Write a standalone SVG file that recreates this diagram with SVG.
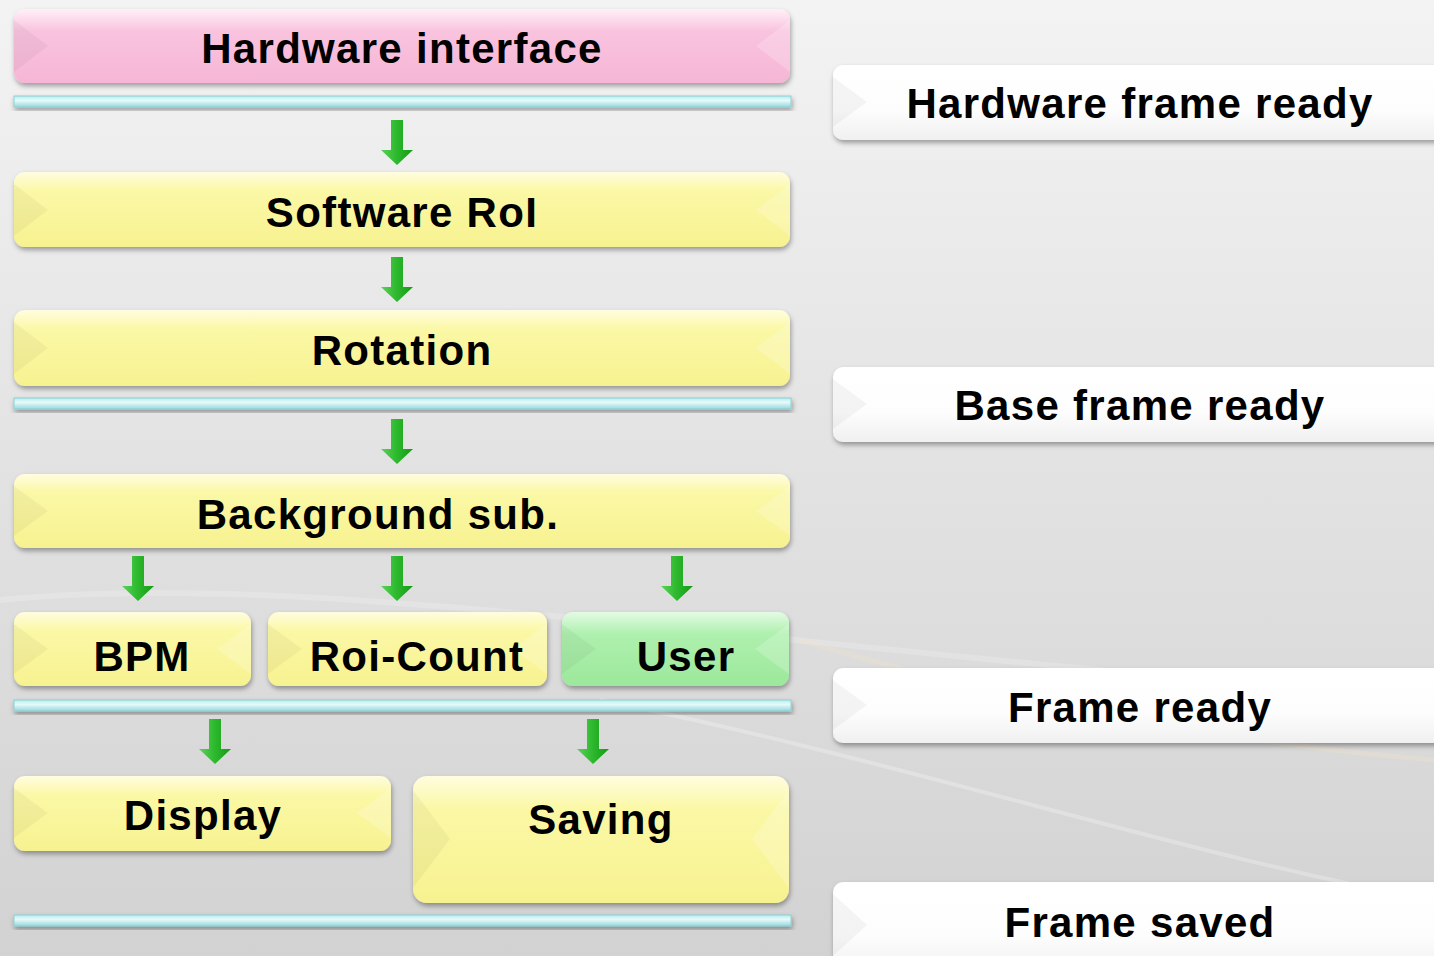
<svg xmlns="http://www.w3.org/2000/svg" xmlns:xlink="http://www.w3.org/1999/xlink" width="1434" height="956" viewBox="0 0 1434 956">
<defs>
<linearGradient id="bg" x1="0" y1="0" x2="0" y2="1">
<stop offset="0" stop-color="#f3f3f3"/>
<stop offset="0.5" stop-color="#e2e2e2"/>
<stop offset="1" stop-color="#d2d2d2"/>
</linearGradient>
<linearGradient id="gy" x1="0" y1="0" x2="0" y2="1">
<stop offset="0" stop-color="#fffde0"/>
<stop offset="0.25" stop-color="#fbf8a6"/>
<stop offset="1" stop-color="#f7f290"/>
</linearGradient>
<linearGradient id="gp" x1="0" y1="0" x2="0" y2="1">
<stop offset="0" stop-color="#fff0f8"/>
<stop offset="0.3" stop-color="#f9c3de"/>
<stop offset="1" stop-color="#f6b6d6"/>
</linearGradient>
<linearGradient id="gg" x1="0" y1="0" x2="0" y2="1">
<stop offset="0" stop-color="#e4fbe4"/>
<stop offset="0.3" stop-color="#aef0ae"/>
<stop offset="1" stop-color="#9ce89c"/>
</linearGradient>
<linearGradient id="gw" x1="0" y1="0" x2="0" y2="1">
<stop offset="0" stop-color="#ffffff"/>
<stop offset="0.6" stop-color="#fdfdfd"/>
<stop offset="1" stop-color="#f0f0f0"/>
</linearGradient>
<linearGradient id="gc" x1="0" y1="0" x2="0" y2="1">
<stop offset="0" stop-color="#b8ecec"/>
<stop offset="0.4" stop-color="#e6fafa"/>
<stop offset="1" stop-color="#98d8dc"/>
</linearGradient>
<linearGradient id="ga" x1="0" y1="0" x2="1" y2="0">
<stop offset="0" stop-color="#5ad25a"/>
<stop offset="0.5" stop-color="#2cb82c"/>
<stop offset="1" stop-color="#169a16"/>
</linearGradient>
<filter id="sh" x="-5%" y="-20%" width="110%" height="150%">
<feDropShadow dx="1" dy="3" stdDeviation="2.5" flood-color="#000" flood-opacity="0.35"/>
</filter>
<path id="arr" d="M-6,0 H6 V30 H16 L0,45 L-16,30 H-6 Z" fill="url(#ga)"/>
</defs>
<style>
.t{font-family:"Liberation Sans",Arial,sans-serif;font-weight:bold;font-size:42px;letter-spacing:1.3px;fill:#000;text-anchor:middle}
.box{filter:url(#sh)}
.bl{fill:#000;opacity:0.04}
.br{fill:#fff;opacity:0.2}
.bar{fill:url(#gc);stroke:#8ccfd3;stroke-width:1;filter:url(#sh)}
</style>
<rect width="1434" height="956" fill="url(#bg)"/>
<path d="M0,600 C300,570 700,640 1434,700" stroke="#fff" stroke-opacity="0.18" stroke-width="6" fill="none"/>
<path d="M600,700 C900,760 1200,860 1434,900" stroke="#fff" stroke-opacity="0.25" stroke-width="4" fill="none"/>
<path d="M800,640 C1000,700 1200,740 1434,760" stroke="#f5e6c8" stroke-opacity="0.3" stroke-width="5" fill="none"/>

<g id="bars">
<rect class="bar" x="14" y="96" width="777" height="11"/>
<rect class="bar" x="14" y="398" width="777" height="11"/>
<rect class="bar" x="14" y="700" width="777" height="11"/>
<rect class="bar" x="14" y="915" width="777" height="11"/>
</g>

<g id="hw-interface">
<rect class="box" x="14" y="9" width="776" height="74" rx="11" fill="url(#gp)"/>
<path class="bl" d="M14,20 L48,46 L14,72 Z"/>
<path class="br" d="M790,20 L756,46 L790,72 Z"/>
<text class="t" x="402" y="63">Hardware interface</text>
</g>

<g id="software-roi">
<rect class="box" x="14" y="172" width="776" height="75" rx="11" fill="url(#gy)"/>
<path class="bl" d="M14,184 L48,210 L14,236 Z"/>
<path class="br" d="M790,184 L756,210 L790,236 Z"/>
<text class="t" x="402" y="227">Software RoI</text>
</g>

<g id="rotation">
<rect class="box" x="14" y="310" width="776" height="76" rx="11" fill="url(#gy)"/>
<path class="bl" d="M14,322 L48,348 L14,374 Z"/>
<path class="br" d="M790,322 L756,348 L790,374 Z"/>
<text class="t" x="402" y="365">Rotation</text>
</g>

<g id="background-sub">
<rect class="box" x="14" y="474" width="776" height="74" rx="11" fill="url(#gy)"/>
<path class="bl" d="M14,486 L48,511 L14,536 Z"/>
<path class="br" d="M790,486 L756,511 L790,536 Z"/>
<text class="t" x="378" y="529">Background sub.</text>
</g>

<g id="bpm">
<rect class="box" x="14" y="612" width="237" height="74" rx="11" fill="url(#gy)"/>
<path class="bl" d="M14,624 L48,649 L14,674 Z"/>
<path class="br" d="M251,624 L217,649 L251,674 Z"/>
<text class="t" x="142" y="671">BPM</text>
</g>

<g id="roi-count">
<rect class="box" x="268" y="612" width="279" height="74" rx="11" fill="url(#gy)"/>
<path class="bl" d="M268,624 L302,649 L268,674 Z"/>
<path class="br" d="M547,624 L513,649 L547,674 Z"/>
<text class="t" x="417" y="671">Roi-Count</text>
</g>

<g id="user">
<rect class="box" x="562" y="612" width="227" height="74" rx="11" fill="url(#gg)"/>
<path class="bl" d="M562,624 L596,649 L562,674 Z"/>
<path class="br" d="M789,624 L755,649 L789,674 Z"/>
<text class="t" x="686" y="671">User</text>
</g>

<g id="display">
<rect class="box" x="14" y="776" width="377" height="75" rx="11" fill="url(#gy)"/>
<path class="bl" d="M14,788 L48,813 L14,838 Z"/>
<path class="br" d="M391,788 L357,813 L391,838 Z"/>
<text class="t" x="203" y="830">Display</text>
</g>

<g id="saving">
<rect class="box" x="413" y="776" width="376" height="127" rx="14" fill="url(#gy)"/>
<path class="bl" d="M413,790 L450,839 L413,888 Z"/>
<path class="br" d="M789,790 L752,839 L789,888 Z"/>
<text class="t" x="601" y="834">Saving</text>
</g>

<g id="hw-frame-ready">
<rect class="box" x="833" y="65" width="620" height="75" rx="10" fill="url(#gw)"/>
<path class="bl" d="M833,77 L867,102 L833,127 Z"/>
<text class="t" x="1140" y="118">Hardware frame ready</text>
</g>

<g id="base-frame-ready">
<rect class="box" x="833" y="367" width="620" height="75" rx="10" fill="url(#gw)"/>
<path class="bl" d="M833,379 L867,404 L833,429 Z"/>
<text class="t" x="1140" y="420">Base frame ready</text>
</g>

<g id="frame-ready">
<rect class="box" x="833" y="668" width="620" height="75" rx="10" fill="url(#gw)"/>
<path class="bl" d="M833,680 L867,705 L833,730 Z"/>
<text class="t" x="1140" y="722">Frame ready</text>
</g>

<g id="frame-saved">
<rect class="box" x="833" y="882" width="620" height="90" rx="10" fill="url(#gw)"/>
<path class="bl" d="M833,894 L867,925 L833,956 Z"/>
<text class="t" x="1140" y="937">Frame saved</text>
</g>

<g id="connectors">
<use xlink:href="#arr" x="397" y="120"/>
<use xlink:href="#arr" x="397" y="257"/>
<use xlink:href="#arr" x="397" y="419"/>
<use xlink:href="#arr" x="138" y="556"/>
<use xlink:href="#arr" x="397" y="556"/>
<use xlink:href="#arr" x="677" y="556"/>
<use xlink:href="#arr" x="215" y="719"/>
<use xlink:href="#arr" x="593" y="719"/>
</g>
</svg>
